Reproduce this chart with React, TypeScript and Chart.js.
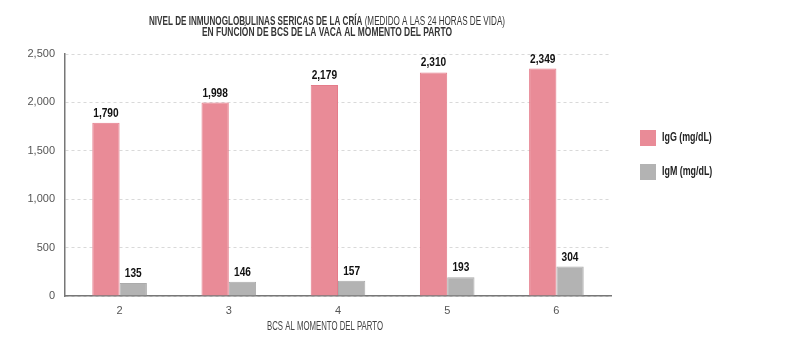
import React, { useEffect, useRef } from 'react';
import { Chart, registerables } from 'chart.js';

Chart.register(...registerables);

const categories = ['2', '3', '4', '5', '6'];
const igG = [1790, 1998, 2179, 2310, 2349];
const igM = [135, 146, 157, 193, 304];
const seriesLabels = ['IgG (mg/dL)', 'IgM (mg/dL)'];
const seriesColors = ['#E98B97', '#B3B3B3'];
const seriesBorders = ['#E57C8A', '#ABABAB'];
const yMin = 0;
const yMax = 2500;
const yStep = 500;
const titleBold = 'NIVEL DE INMUNOGLOBULINAS SERICAS DE LA CRÍA';
const titleNormal = ' (MEDIDO A LAS 24 HORAS DE VIDA)';
const titleLine2 = 'EN FUNCIÓN DE BCS DE LA VACA AL MOMENTO DEL PARTO';
const xTitle = 'BCS AL MOMENTO DEL PARTO';

const FF = "'Liberation Sans Narrow', 'Liberation Sans', Arial, sans-serif";
const fmt = (v: number) => v.toLocaleString('en-US');

function drawScaled(ctx: any, text: string, x: number, y: number, sx: number) {
  ctx.save();
  ctx.translate(x, y);
  ctx.scale(sx, 1);
  ctx.fillText(text, 0, 0);
  ctx.restore();
}

const titlePlugin = {
  id: 'customTitle',
  afterDraw(chart: any) {
    const ctx = chart.ctx;
    ctx.save();
    ctx.fillStyle = '#363636';
    ctx.textBaseline = 'middle';
    ctx.textAlign = 'left';
    ctx.font = `bold 12px ${FF}`;
    const wb = ctx.measureText(titleBold).width;
    ctx.font = `12px ${FF}`;
    const wn = ctx.measureText(titleNormal).width;
    const w1 = 356;
    const s1 = w1 / (wb + wn);
    const x1 = 319 - w1 / 2;
    ctx.font = `bold 12px ${FF}`;
    drawScaled(ctx, titleBold, x1, 14, s1);
    ctx.font = `12px ${FF}`;
    drawScaled(ctx, titleNormal, x1 + wb * s1, 14, s1);
    ctx.font = `bold 12px ${FF}`;
    const w2 = ctx.measureText(titleLine2).width;
    const tw2 = 250;
    drawScaled(ctx, titleLine2, 319 - tw2 / 2, 25, tw2 / w2);

    // x-axis title
    ctx.fillStyle = '#444';
    ctx.font = `12px ${FF}`;
    const wx = ctx.measureText(xTitle).width;
    const tx = 116;
    drawScaled(ctx, xTitle, 317 - tx / 2, 319, tx / wx);
    ctx.restore();
  },
};

const legendPlugin = {
  id: 'customLegend',
  afterDraw(chart: any) {
    const ctx = chart.ctx;
    ctx.save();
    chart.data.datasets.forEach((ds: any, i: number) => {
      const top = 122 + i * 34;
      ctx.fillStyle = ds.backgroundColor;
      ctx.fillRect(632, top, 16, 16);
      ctx.fillStyle = '#222';
      ctx.font = `bold 12px ${FF}`;
      ctx.textBaseline = 'middle';
      ctx.textAlign = 'left';
      drawScaled(ctx, ds.label, 654, top + 8, 0.74);
    });
    ctx.restore();
  },
};

const labelPlugin = {
  id: 'barLabels',
  afterDatasetsDraw(chart: any) {
    const ctx = chart.ctx;
    ctx.save();
    ctx.fillStyle = '#111';
    ctx.font = `bold 13px ${FF}`;
    ctx.textAlign = 'center';
    ctx.textBaseline = 'alphabetic';
    chart.data.datasets.forEach((ds: any, di: number) => {
      const meta = chart.getDatasetMeta(di);
      meta.data.forEach((el: any, i: number) => {
        drawScaled(ctx, fmt(ds.data[i]), el.x, el.y - 6, 0.78);
      });
    });
    ctx.restore();
  },
};

export default function App() {
  const ref = useRef<HTMLCanvasElement | null>(null);
  useEffect(() => {
    if (!ref.current) return;
    const chart = new Chart(ref.current, {
      type: 'bar',
      data: {
        labels: categories,
        datasets: [
          { label: seriesLabels[0], data: igG, backgroundColor: seriesColors[0], borderColor: seriesBorders[0], borderWidth: 1 },
          { label: seriesLabels[1], data: igM, backgroundColor: seriesColors[1], borderColor: seriesBorders[1], borderWidth: 1 },
        ],
      },
      options: {
        animation: false,
        responsive: true,
        maintainAspectRatio: false,
        layout: { padding: { top: 46, right: 181, left: 0, bottom: 0 } },
        datasets: { bar: { categoryPercentage: 0.5, barPercentage: 1.0 } },
        plugins: { legend: { display: false }, tooltip: { enabled: false }, title: { display: false } },
        scales: {
          x: {
            grid: { display: false, drawTicks: false },
            border: { display: true, color: '#777', width: 1.5 },
            ticks: { color: '#555', font: { family: FF, size: 11 }, padding: 8 },
            title: { display: false, text: xTitle },
            afterFit: (s: any) => { s.height = 48; },
          },
          y: {
            min: yMin,
            max: yMax,
            ticks: { stepSize: yStep, color: '#555', font: { family: FF, size: 11 }, padding: 10, callback: (v: any) => fmt(Number(v)) },
            grid: { color: '#d9d9d9', drawTicks: false, lineWidth: 1 },
            border: { display: true, color: '#777', width: 1.5, dash: [3, 3] },
            afterFit: (s: any) => { s.width = 57; },
          },
        },
      },
      plugins: [titlePlugin, legendPlugin, labelPlugin],
    });
    return () => chart.destroy();
  }, []);
  return (
    <div style={{ width: 784, height: 336, position: 'relative', background: '#fff' }}>
      <canvas ref={ref} />
    </div>
  );
}
